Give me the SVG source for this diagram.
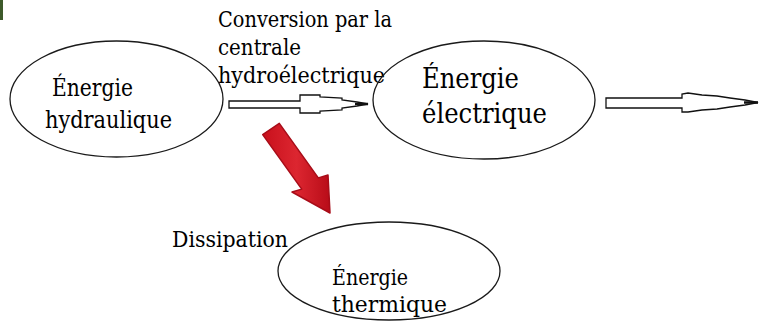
<svg xmlns="http://www.w3.org/2000/svg" width="759" height="321" viewBox="0 0 759 321">
<style>
.ell{fill:none;stroke:#1a1a1a;stroke-width:1.3}
text{font-family:'DejaVu Serif',serif;fill:#000}
.ha{fill:#fff;stroke:#111;stroke-width:1.3;stroke-linejoin:miter}
</style>
<defs>
<linearGradient id="rg" x1="0" y1="0" x2="1" y2="0" gradientUnits="objectBoundingBox">
<stop offset="0" stop-color="#c8101c"/>
<stop offset="0.5" stop-color="#dc2630"/>
<stop offset="1" stop-color="#b80c18"/>
</linearGradient>
</defs>
<rect x="0" y="0" width="3" height="20" fill="#3d5a2a"/>
<g id="label-conversion" font-size="22.5">
<text x="218" y="27" textLength="174" lengthAdjust="spacingAndGlyphs">Conversion par la</text>
<text x="218" y="55" textLength="83" lengthAdjust="spacingAndGlyphs">centrale</text>
<text x="218" y="83" textLength="167" lengthAdjust="spacingAndGlyphs">hydroélectrique</text>
</g>
<g id="label-dissipation" font-size="23">
<text x="172" y="247" textLength="116" lengthAdjust="spacingAndGlyphs">Dissipation</text>
</g>
<g id="node-hydraulique" font-size="23.5">
<ellipse class="ell" cx="116.5" cy="99" rx="106.5" ry="58"/>
<text x="52" y="96" textLength="81" lengthAdjust="spacingAndGlyphs">Énergie</text>
<text x="45" y="128" textLength="127" lengthAdjust="spacingAndGlyphs">hydraulique</text>
</g>
<g id="node-electrique" font-size="28">
<ellipse class="ell" cx="484" cy="100" rx="111" ry="59"/>
<text x="422" y="88" textLength="97" lengthAdjust="spacingAndGlyphs">Énergie</text>
<text x="422" y="123" textLength="125" lengthAdjust="spacingAndGlyphs">électrique</text>
</g>
<g id="node-thermique" font-size="22.5">
<ellipse class="ell" cx="389" cy="271" rx="111" ry="49"/>
<text x="332" y="285" textLength="76" lengthAdjust="spacingAndGlyphs">Énergie</text>
<text x="332" y="312" textLength="115" lengthAdjust="spacingAndGlyphs">thermique</text>
</g>
<g id="connectors">
<polygon class="ha" points="229,101 300,101 300,95 320,95 320,97 342,98 342,100 357,102 368,104 357,106 342,108 342,110 320,111 320,113 300,113 300,108 229,108"/>
<line x1="355" y1="104" x2="368" y2="104" stroke="#111" stroke-width="2.5"/>
<polygon class="ha" points="606,98 682,98 682,94 688,93 702,95 717,96 730,98 745,100 758,102.5 745,105 730,107 717,109 702,110 688,112 682,112 682,108 606,108"/>
<line x1="744" y1="102.5" x2="758" y2="102.5" stroke="#111" stroke-width="2.5"/>
<polygon points="279.3,123.4 318.3,177.9 328,175 330,213 292,192 301.7,189.1 262.7,134.6" fill="url(#rg)" stroke="#a80c18" stroke-width="1.5" stroke-linejoin="round"/>
</g>
</svg>
